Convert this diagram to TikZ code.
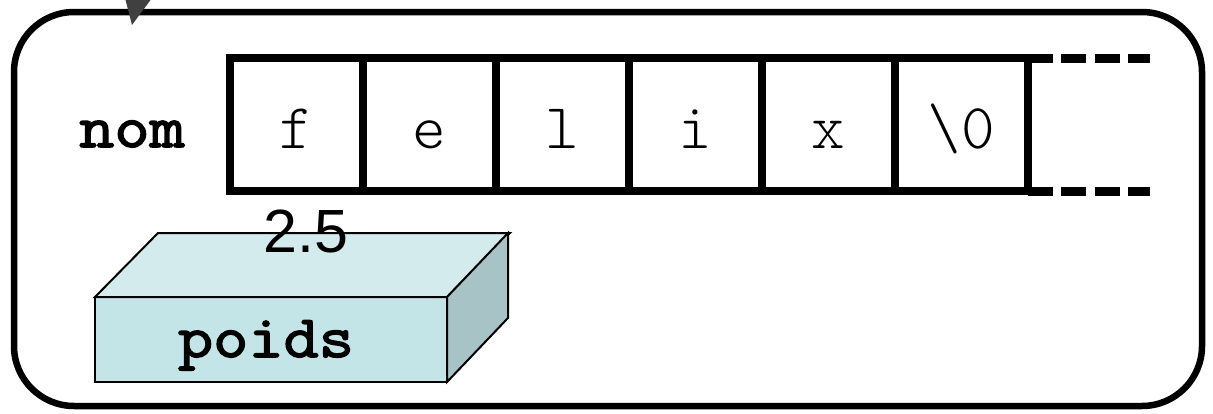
\documentclass[tikz,border=0pt]{standalone}
\usepackage{fontspec}
\setmainfont{Liberation Sans}
\newfontfamily\courl{Latin Modern Mono Light}
\newfontfamily\courb[FakeBold=2.5,FakeStretch=1.14]{Latin Modern Mono}
\definecolor{frontc}{HTML}{C4E5E8}
\definecolor{topc}{HTML}{D3EBEC}
\definecolor{sidec}{HTML}{A7C3C5}
\definecolor{tipc}{HTML}{404040}
\begin{document}
\begin{tikzpicture}[x=1pt,y=-1pt,
  frame/.style={draw=black,line width=6.5pt,rounded corners=60pt},
  cell/.style={draw=black,line width=8pt,minimum width=133pt,minimum height=133pt,
    inner sep=0pt,outer sep=0pt,text height=48pt,text depth=0pt,
    font=\courl\fontsize{64}{64}\selectfont},
  dashline/.style={draw=black,line width=9pt,dash pattern=on 25pt off 8.5pt},
  lbl/.style={font=\courb\fontsize{60}{60}\selectfont,inner sep=0pt},
  val/.style={font=\fontsize{61}{61}\selectfont,inner sep=0pt},
  boxface/.style={draw=black,line width=2pt,line join=miter}]
\useasboundingbox (0,0) rectangle (1213,413);
% outer frame
\draw[frame] (14,12) rectangle (1202,406);
% arrow tip coming from above
\coordinate (tipL) at (125,-2);
\coordinate (tipR) at (152,-2);
\coordinate (tipP) at (132,25);
\fill[tipc] (tipL) -- (tipR) -- (tipP) -- cycle;
% label nom
\node[lbl,anchor=base] (nom) at (132,147) {nom};
% cells
\node[cell] (c1) at (296,124.5) {f};
\node[cell] (c2) at (429,124.5) {e};
\node[cell] (c3) at (562,124.5) {l};
\node[cell] (c4) at (695,124.5) {i};
\node[cell] (c5) at (828,124.5) {x};
\node[cell] (c6) at (961,124.5) {\textbackslash0};
% dashed continuation
\coordinate (te) at (1150,58);
\coordinate (be) at (1150,191);
\draw[dashline] (c6.north east) -- (te);
\draw[dashline] (c6.south east) -- (be);
% 3D box
\node[boxface,fill=frontc,minimum width=352pt,minimum height=85pt,anchor=north west,
  inner sep=0pt,outer sep=0pt,text height=35pt,text depth=0pt,
  font=\courb\fontsize{60}{60}\selectfont] (box) at (95,297) {\hspace*{-10pt}poids};
\draw[boxface,fill=topc] (box.north west) -- ++(63,-64) -- ++(352,0) -- (box.north east) -- cycle;
\draw[boxface,fill=sidec] (box.north east) -- ++(61,-64) -- ++(0,85) -- (box.south east) -- cycle;
% value
\node[val,anchor=base] (w) at (306,252) {2.5};
\end{tikzpicture}
\end{document}
